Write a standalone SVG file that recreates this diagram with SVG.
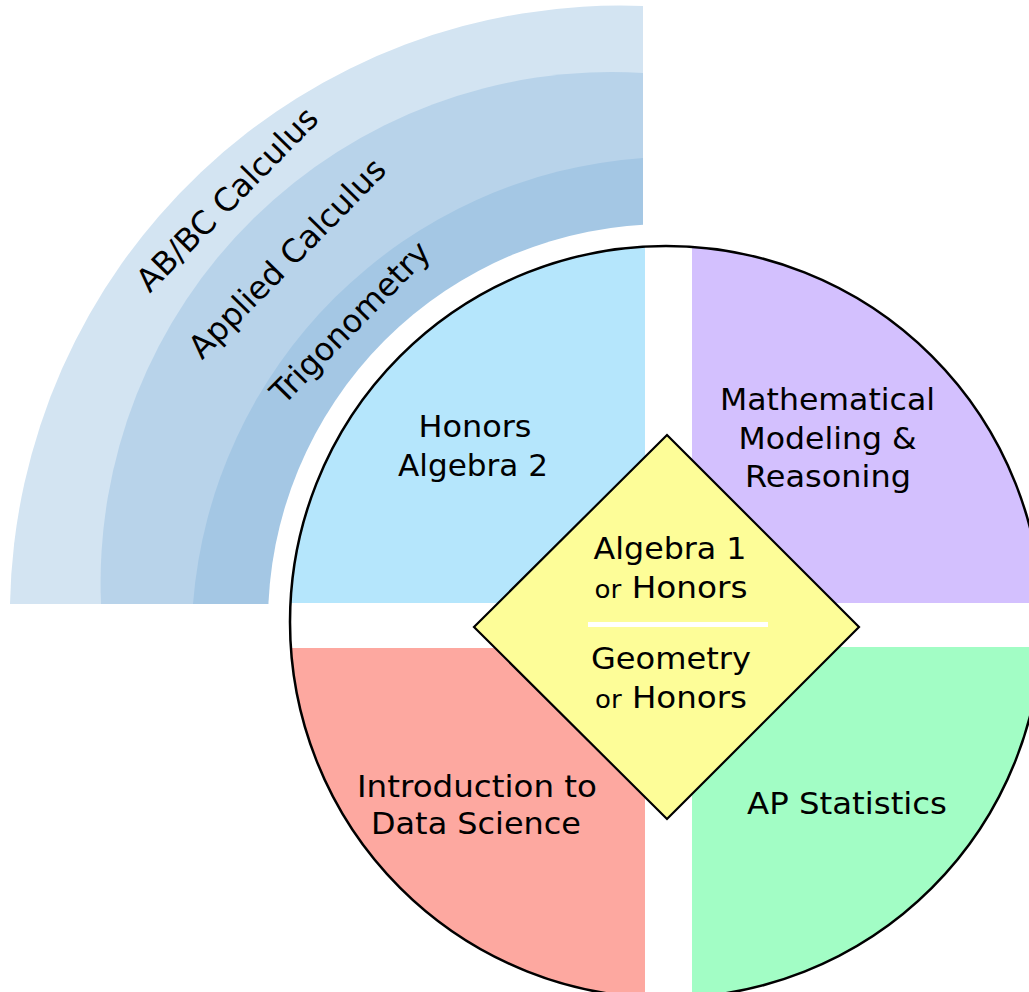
<svg xmlns="http://www.w3.org/2000/svg" width="1029" height="992" viewBox="0 0 1029 992">
<defs>
<style>
text { font-family: "DejaVu Sans", Verdana, "Liberation Sans", sans-serif; font-size: 30px; fill: #000; text-anchor: middle; }
.band-t { font-size: 32px; }
.or { font-size: 24px; }
.ring { fill: #ffffff; }
.outline { fill: none; stroke: #000; stroke-width: 2.5; }
</style>
<clipPath id="circ"><circle cx="666" cy="622" r="376"/></clipPath>
</defs>
<rect x="0" y="0" width="1029" height="992" fill="#ffffff"/>

<g id="band-abbc">
<path d="M643,604 L10,604 A610,610 0 0 1 643,6 Z" fill="#d3e4f2"/>
</g>
<g id="band-applied">
<path d="M643,604 L101,604 A511,511 0 0 1 643,73 Z" fill="#b8d3ea"/>
</g>
<g id="band-trig">
<path d="M643,604 L193,604 A485,485 0 0 1 643,158 Z" fill="#a4c7e4"/>
</g>
<circle class="ring" cx="666" cy="622" r="398"/>
<g id="band-labels">
<text class="band-t" transform="translate(235,207) rotate(-45.5)">AB/BC Calculus</text>
<text class="band-t" transform="translate(295,266) rotate(-45.5)">Applied Calculus</text>
<text class="band-t" transform="translate(358,330) rotate(-45.5)">Trigonometry</text>
</g>

<circle cx="666" cy="622" r="376" fill="#ffffff"/>
<g clip-path="url(#circ)">
<g id="honors-algebra2">
<rect x="280" y="236" width="365" height="367" fill="#b5e6fc"/>
</g>
<g id="math-modeling">
<rect x="692" y="236" width="360" height="367" fill="#d3c0fe"/>
</g>
<g id="data-science">
<rect x="280" y="648" width="365" height="360" fill="#fda8a0"/>
</g>
<g id="ap-statistics">
<rect x="692" y="647" width="360" height="360" fill="#a2fdc5"/>
</g>
</g>
<circle class="outline" cx="666" cy="622" r="376"/>

<g id="labels-quadrants">
<text x="475" y="437" textLength="113" lengthAdjust="spacingAndGlyphs">Honors</text>
<text x="473" y="476" textLength="150" lengthAdjust="spacingAndGlyphs">Algebra 2</text>
<text x="827.5" y="410" textLength="215" lengthAdjust="spacingAndGlyphs">Mathematical</text>
<text x="827.5" y="449" textLength="178" lengthAdjust="spacingAndGlyphs">Modeling &amp;</text>
<text x="828" y="487" textLength="166" lengthAdjust="spacingAndGlyphs">Reasoning</text>
<text x="477" y="797" textLength="240" lengthAdjust="spacingAndGlyphs">Introduction to</text>
<text x="476" y="834" textLength="210" lengthAdjust="spacingAndGlyphs">Data Science</text>
<text x="847" y="814" textLength="200" lengthAdjust="spacingAndGlyphs">AP Statistics</text>
</g>

<g id="core-diamond">
<polygon points="667,435 859,627 667,819 474,627" fill="#fdfd98" stroke="#000" stroke-width="2.2" stroke-linejoin="miter"/>
<rect x="588" y="622" width="180" height="5" fill="#ffffff"/>
<text x="670" y="559" textLength="153" lengthAdjust="spacingAndGlyphs">Algebra 1</text>
<text x="671" y="598" textLength="153" lengthAdjust="spacingAndGlyphs"><tspan class="or">or</tspan> Honors</text>
<text x="671" y="669" textLength="160" lengthAdjust="spacingAndGlyphs">Geometry</text>
<text x="671" y="708" textLength="152" lengthAdjust="spacingAndGlyphs"><tspan class="or">or</tspan> Honors</text>
</g>

<g id="connectors"/>
</svg>
